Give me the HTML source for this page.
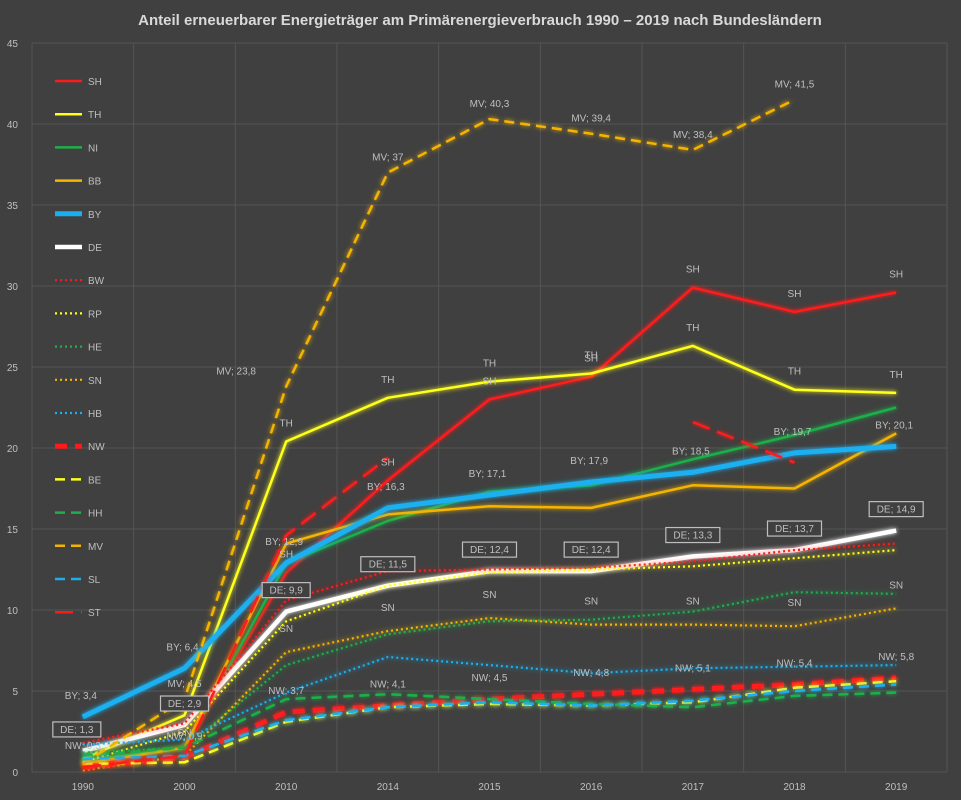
<!DOCTYPE html>
<html><head><meta charset="utf-8"><style>
html,body{margin:0;padding:0;background:#404040;}
svg{display:block;font-family:"Liberation Sans",sans-serif;}
</style></head><body>
<svg id="chart" width="961" height="800">
<defs><filter id="glow" x="-5%" y="-5%" width="110%" height="110%"><feGaussianBlur stdDeviation="2.5" result="b"/><feMerge><feMergeNode in="b"/><feMergeNode in="SourceGraphic"/></feMerge></filter></defs>
<rect x="0" y="0" width="961" height="800" fill="#404040"/>
<text x="480" y="25" text-anchor="middle" fill="#d9d9d9" font-size="15" font-weight="bold">Anteil erneuerbarer Energieträger am Primärenergieverbrauch 1990 – 2019 nach Bundesländern</text>
<g id="grid"></g><g id="axes"></g><g id="series"></g><g id="labels"></g><g id="legend"></g>
</svg>
<script>
const categories=["1990","2000","2010","2014","2015","2016","2017","2018","2019"];
const yTicks=[0,5,10,15,20,25,30,35,40,45];
const seriesNames=["SH","TH","NI","BB","BY","DE","BW","RP","HE","SN","HB","NW","BE","HH","MV","SL","ST"];
const SH=[0.3,1.5,12.3,18,23,24.4,29.9,28.4,29.6];
const TH=[0.8,3.5,20.4,23.1,24.1,24.6,26.3,23.6,23.4];
const NI=[0.7,1.5,12.9,15.5,17.3,17.7,19.3,20.8,22.5];
const BB=[0.5,1.5,14.1,15.9,16.4,16.3,17.7,17.5,20.9];
const BY=[3.4,6.4,12.9,16.3,17.1,17.9,18.5,19.7,20.1];
const DE=[1.3,2.9,9.9,11.5,12.4,12.4,13.3,13.7,14.9];
const BW=[1.8,3.0,10.6,12.4,12.5,12.6,13.0,13.7,14.1];
const RP=[0.6,2.5,9.3,11.5,12.3,12.5,12.7,13.2,13.7];
const HE=[1.2,1.5,6.6,8.5,9.3,9.4,9.9,11.1,11.0];
const SN=[0.1,1.0,7.4,8.7,9.5,9.1,9.1,9.0,10.1];
const HB=[1.7,2.0,4.9,7.1,6.6,6.1,6.4,6.5,6.6];
const NW=[0.3,0.9,3.7,4.1,4.5,4.8,5.1,5.4,5.8];
const BE=[0.5,0.6,3.1,4.0,4.2,4.1,4.3,5.2,5.6];
const HH=[1.0,1.5,4.5,4.8,4.5,4.2,4.0,4.7,4.9];
const MV=[0.5,4.5,23.8,37,40.3,39.4,38.4,41.5,null];
const SL=[0.8,1.0,3.2,4.0,4.3,4.1,4.4,5.0,5.4];
const ST=[0.3,1.0,14.6,19.4,null,null,21.6,19.1,null];
const seriesValues=[SH,TH,NI,BB,BY,DE,BW,RP,HE,SN,HB,NW,BE,HH,MV,SL,ST];
const styles={SH:["#ff1a1a",2.5,""],TH:["#ffff1a",2.5,""],NI:["#1fb04a",2.5,""],BB:["#f5b400",2.5,""],BY:["#1ab0f0",5,""],DE:["#ffffff",4.5,""],BW:["#ff1a1a",2.2,"2 3"],RP:["#ffff1a",2.2,"2 3"],HE:["#1fb04a",2.2,"2 3"],SN:["#f5b400",2.2,"2 3"],HB:["#1ab0f0",2.2,"2 3"],NW:["#ff1a1a",5,"12 8"],BE:["#ffff1a",2.5,"10 6"],HH:["#1fb04a",2.5,"10 6"],MV:["#f5b400",2.5,"10 6"],SL:["#1ab0f0",2.5,"10 6"],ST:["#ff1a1a",2.5,"18 8"]};
const NS="http://www.w3.org/2000/svg";
const X0=32,X1=947,Y0=772,Y1=43;
const band=(X1-X0)/categories.length;
function xS(i){return X0+band*(i+0.5);}
function yS(v){return Y0-(v/45)*(Y0-Y1);}
function mk(tag,attrs,parent){const e=document.createElementNS(NS,tag);for(const k in attrs)e.setAttribute(k,attrs[k]);parent.appendChild(e);return e;}
const grid=document.getElementById('grid'),axes=document.getElementById('axes'),ser=document.getElementById('series'),lab=document.getElementById('labels'),leg=document.getElementById('legend');
yTicks.forEach(t=>{
 const l=mk('line',{x1:X0,x2:X1,y1:yS(t),y2:yS(t),stroke:'#555',"stroke-width":1},grid);
 
 
 const tx=mk('text',{x:18,y:yS(t)+4,"text-anchor":"end",fill:'#bfbfbf',"font-size":10},axes);
 tx.textContent=t;
 
 
});
for(let i=0;i<=categories.length;i++){
 const l=mk('line',{x1:X0+band*i,x2:X0+band*i,y1:Y1,y2:Y0,stroke:'#555',"stroke-width":1},grid);
 
 
}
categories.forEach((c,i)=>{
 const tx=mk('text',{x:xS(i),y:790,"text-anchor":"middle",fill:'#bfbfbf',"font-size":10},axes);
 tx.textContent=c;
 
 
});
seriesNames.forEach((n,si)=>{
 const vals=seriesValues[si];const st=styles[n];
 let segs=[],cur=[];
 vals.forEach((v,i)=>{if(v===null){if(cur.length)segs.push(cur);cur=[];}else cur.push(xS(i).toFixed(1)+','+yS(v).toFixed(1));});
 if(cur.length)segs.push(cur);
 segs.forEach(s=>{
  const p=mk('polyline',{points:s.join(' '),fill:'none',stroke:st[0],"stroke-width":st[1],"stroke-dasharray":st[2],"stroke-linejoin":"round",filter:"url(#glow)"},ser);
  
  
 });
 const ly=81+si*33.2;
 const ll=mk('line',{x1:55,x2:82,y1:ly,y2:ly,stroke:st[0],"stroke-width":st[1],"stroke-dasharray":st[2]},leg);
 
 
 const lt=mk('text',{x:88,y:ly+4,fill:'#bfbfbf',"font-size":10},leg);
 lt.textContent=n;
 
 
});
function label(txt,i,v,dx,dy,box){
 const x=xS(i)+dx,y=yS(v)+dy;
 if(box){const w=txt.length*6+6;const r=mk('rect',{x:x-w/2,y:y-11,width:w,height:15,fill:'#404040',stroke:'#bfbfbf',"stroke-width":1.2},lab);
  
  }
 const t=mk('text',{x:x,y:y,"text-anchor":"middle",fill:'#bfbfbf',"font-size":10},lab);
 t.textContent=txt;
 
 
}
for(let i=2;i<9;i++){label('SH',i,SH[i],0,-15,false);label('TH',i,TH[i],0,-15,false);}
for(let i=1;i<9;i++){label('SN',i,SN[i],0,-20,false);}
BY.forEach((v,i)=>label('BY; '+String(v).replace('.',','),i,v,-2,-18,false));
DE.forEach((v,i)=>label('DE; '+String(v).replace('.',','),i,v,i==0?-6:0,-18,true));
NW.forEach((v,i)=>label('NW; '+String(v).replace('.',','),i,v,0,-18,false));
MV.forEach((v,i)=>{if(v!==null&&i>0)label('MV; '+String(v).replace('.',','),i,v,i==2?-50:0,-12,false);});
</script>
</body></html>
